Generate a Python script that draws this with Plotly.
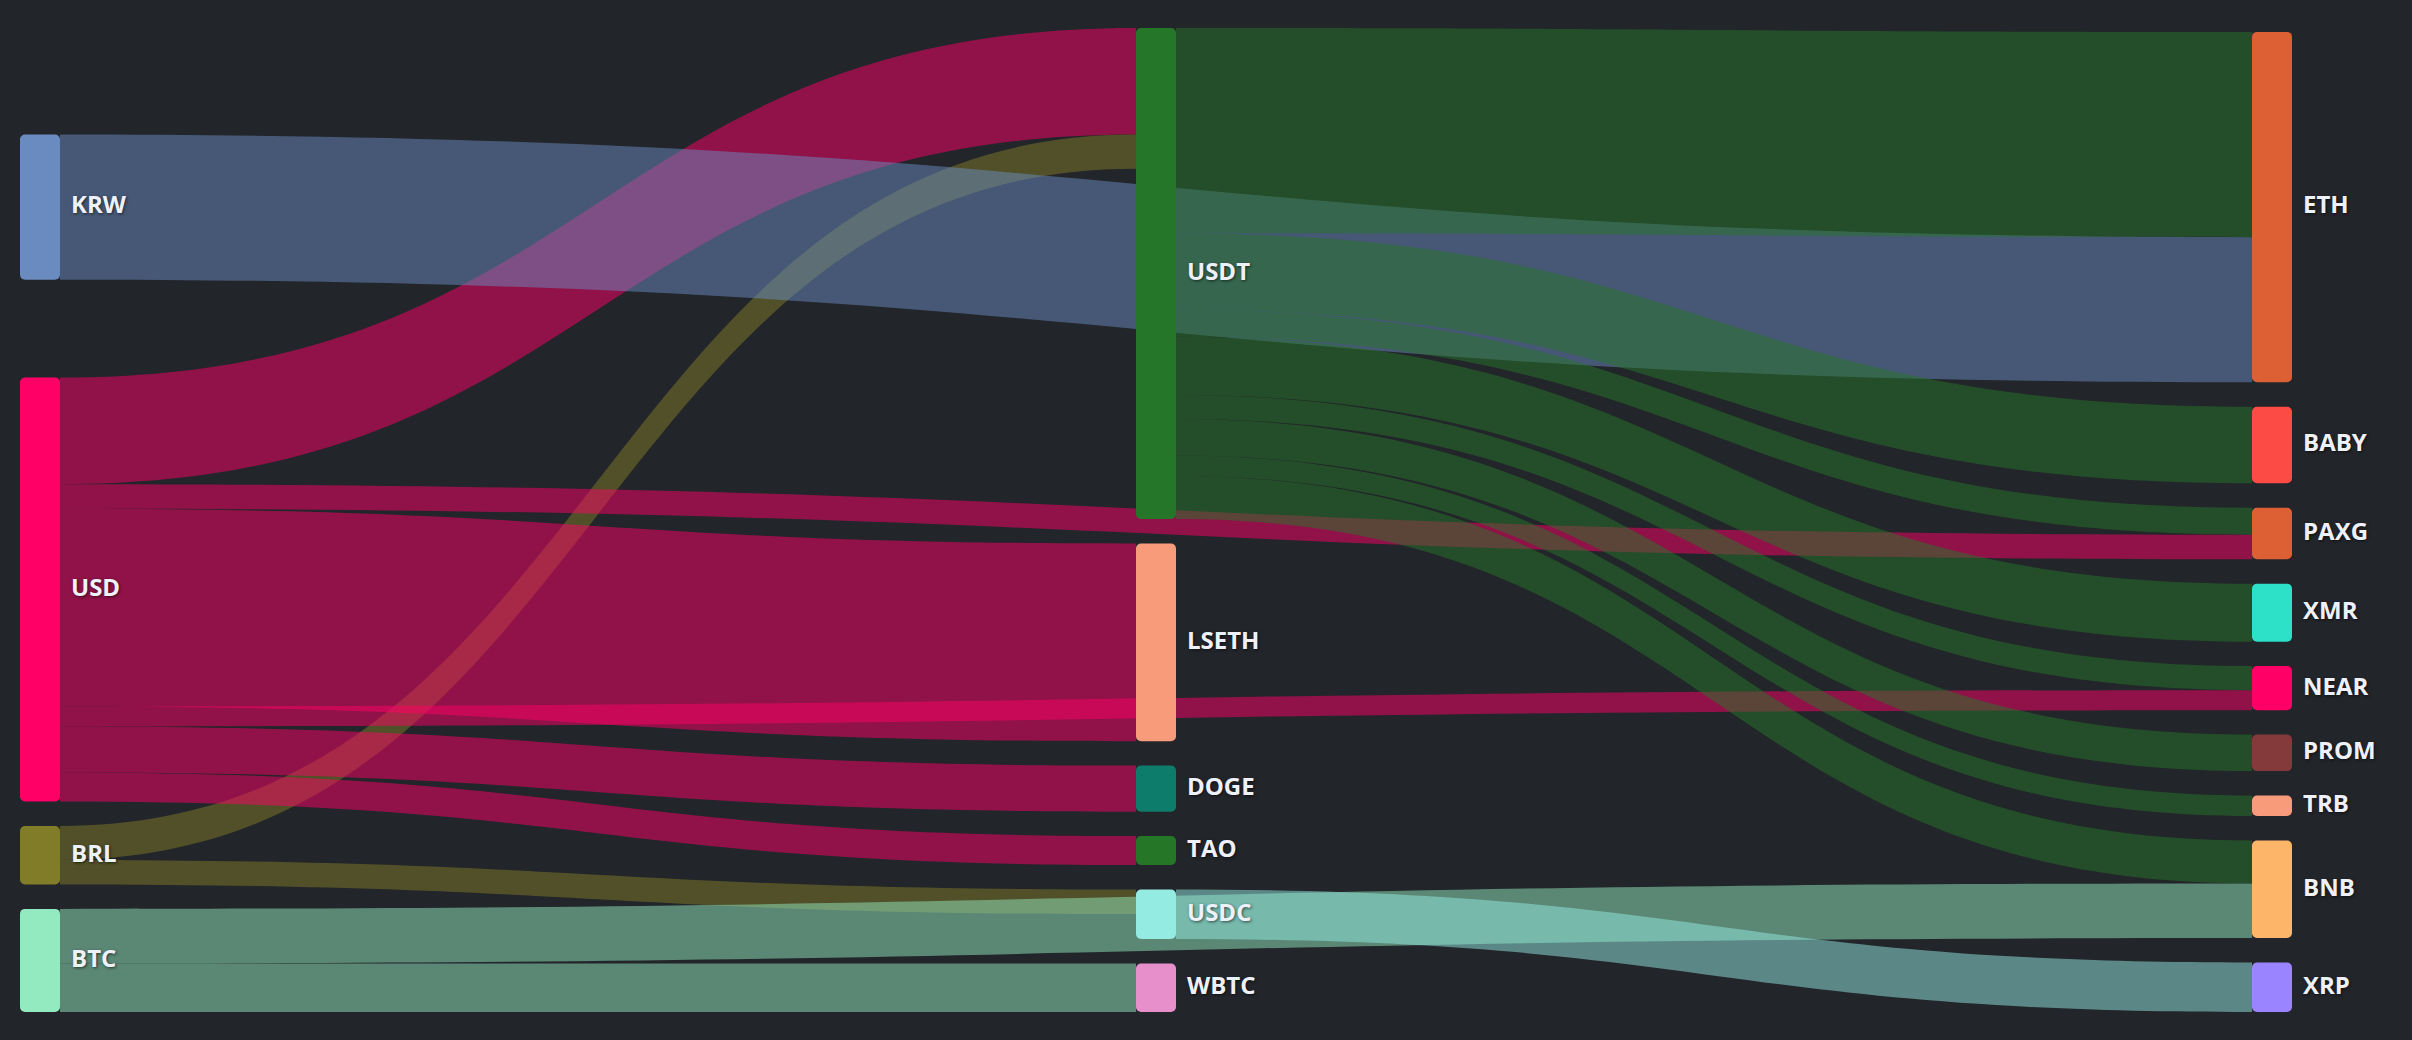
import plotly.graph_objects as go

# nodes, in the order they appear top to bottom in each column
labels = ["KRW", "USD", "BRL", "BTC",
          "USDT", "LSETH", "DOGE", "TAO", "USDC", "WBTC",
          "ETH", "BABY", "PAXG", "XMR", "NEAR", "PROM", "TRB", "BNB", "XRP"]
node_colors = ["#6a8bbf", "#ff0066", "#807c28", "#94eac0",
               "#257628", "#f79b7b", "#0e7c6b", "#267628", "#94ebe2", "#e68fcb",
               "#dc6034", "#fb4b44", "#dc6034", "#2de1c9", "#ff0066", "#84393a",
               "#f79b7b", "#fdb56a", "#9b84ff"]

# flows (source -> target, value)
sources = ["USD", "BRL", "KRW", "USD", "USD", "USD", "USD", "USD", "BRL", "BTC",
           "BTC", "USDC", "USDT", "USDT", "USDT", "USDT", "USDT", "USDT", "USDT", "USDT"]
targets = ["USDT", "USDT", "ETH", "PAXG", "LSETH", "NEAR", "DOGE", "TAO", "USDC", "BNB",
           "WBTC", "XRP", "ETH", "BABY", "PAXG", "XMR", "NEAR", "PROM", "TRB", "BNB"]
values = [106.5, 34, 145, 24.5, 197.5, 20, 46, 29, 24.5, 54.5,
          48.5, 49.5, 205, 76.5, 27, 58, 24, 36.5, 20.5, 43]

BG = "#22252a"


def with_alpha(hex_color, a):
    h = hex_color.lstrip("#")
    r, g, b = int(h[0:2], 16), int(h[2:4], 16), int(h[4:6], 16)
    return f"rgba({r},{g},{b},{a})"


idx = {name: i for i, name in enumerate(labels)}
link_colors = [with_alpha(node_colors[idx[s]], 0.5) for s in sources]

fig = go.Figure(go.Sankey(
    arrangement="snap",
    node=dict(
        label=labels,
        color=node_colors,
        pad=24.4,
        thickness=40,
        align="left",
        line=dict(width=0),
    ),
    link=dict(
        source=[idx[s] for s in sources],
        target=[idx[t] for t in targets],
        value=values,
        color=link_colors,
    ),
    textfont=dict(family="Open Sans", size=24, color="#eef1f9", weight="bold",
                  shadow="1px 1px 3px rgba(0,0,0,0.6)"),
))

fig.update_layout(
    width=2412,
    height=1040,
    paper_bgcolor=BG,
    plot_bgcolor=BG,
    margin=dict(l=20, r=120, t=28, b=28),
)

# page without body margin; rounded nodes, every label on the right of its node
js = """
document.body.style.margin = '0';
document.body.style.background = '%s';
document.querySelectorAll('.sankey-node').forEach(function (g) {
    var t = g.querySelector('.node-label');
    var r = g.querySelector('.node-rect');
    if (!t || !r) return;
    r.setAttribute('rx', 5);
    r.setAttribute('ry', 5);
    var w = parseFloat(r.getAttribute('width'));
    var m = /translate\\(([-\\d.e]+)[ ,]+([-\\d.e]+)\\)/.exec(t.getAttribute('transform'));
    var y = m ? parseFloat(m[2]) - 2 : 0;
    t.setAttribute('text-anchor', 'start');
    t.setAttribute('transform', 'translate(' + (w + 11) + ',' + y + ')');
});
""" % BG

fig.write_html("out.html", post_script=js, config={"displayModeBar": False})
